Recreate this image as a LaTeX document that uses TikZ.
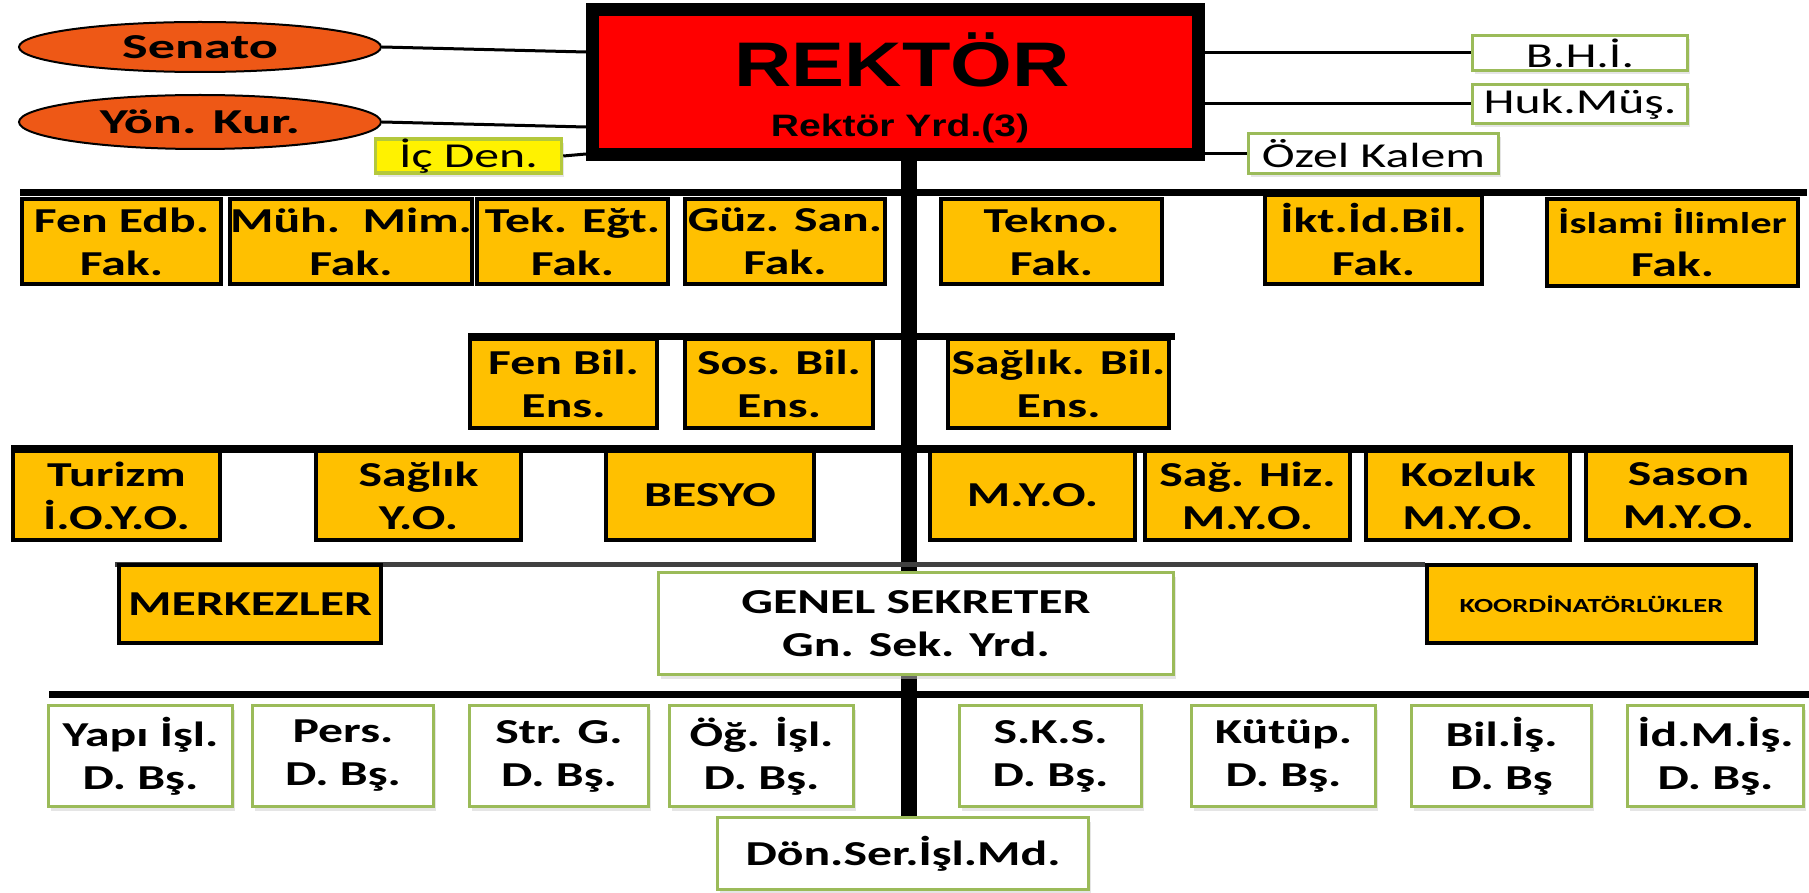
\documentclass[tikz,border=0pt]{standalone}
\usepackage{fontspec}
\newfontfamily\calfont[FakeStretch=1.42]{Carlito}
\newfontfamily\ellfont[FakeStretch=1.55]{Carlito}
\newfontfamily\rkfont[FakeStretch=1.26]{Liberation Sans}
\usetikzlibrary{shapes.geometric,shadows}
\definecolor{ob}{HTML}{FFC000}
\definecolor{gb}{HTML}{9BBB59}
\definecolor{ell}{RGB}{238,88,22}
\definecolor{ybord}{RGB}{180,200,60}
\begin{document}
\begin{tikzpicture}[x=1pt,y=-1pt,
  obox/.style={draw=black,line width=3.5pt,fill=ob,inner sep=0pt,align=center,
    font={\calfont\bfseries\fontsize{35}{43}\selectfont}},
  gbox/.style={draw=gb,line width=3.5pt,fill=white,inner sep=0pt,align=center,
    font={\calfont\bfseries\fontsize{35}{43}\selectfont},
    drop shadow={shadow xshift=2pt,shadow yshift=-4pt,fill=black!20}},
  rbox/.style={gbox,font={\calfont\fontsize{35}{43}\selectfont}},
  ellbox/.style={ellipse,draw=black,line width=2pt,fill=ell,inner sep=0pt,
    font={\ellfont\bfseries\fontsize{35}{43}\selectfont}},
  bus/.style={line width=7pt,black},
  thin/.style={line width=3pt,black},
  mw/.style={minimum width=#1},
  mh/.style={minimum height=#1}]
\useasboundingbox (0,0) rectangle (1809,893);

% top level
\node[ellbox,mw=362pt,mh=50pt] (senato) at (200,47) {Senato};
\node[ellbox,mw=362pt,mh=54pt] (yonkur) at (200,122) {Yön. Kur.};
\node[draw=black,line width=13pt,fill=red,minimum width=606pt,minimum height=145pt] (rektor) at (895.5,82) {};
\node[anchor=base,inner sep=0pt,font={\rkfont\bfseries\fontsize{63}{63}\selectfont}] (rktitle) at (902,87) {REKTÖR};
\node[anchor=base,inner sep=0pt,font={\rkfont\bfseries\fontsize{31}{31}\selectfont}] (rksub) at (900,137) {Rektör Yrd.(3)};

\node[rbox,draw=ybord,fill=yellow,mw=186pt,mh=31pt] (icden) at (468.5,156) {İç Den.};
\node[rbox,mw=215pt,mh=35pt] (bhi) at (1580,53) {B.H.İ.};
\node[rbox,mw=215pt,mh=39pt] (hukmus) at (1580,104) {Huk.Müş.};
\node[rbox,mw=250pt,mh=40pt] (ozel) at (1373.5,153.5) {Özel Kalem};

\coordinate (rs) at (586,52);
\coordinate (ry) at (586,127);
\coordinate (ri) at (586,154);
\draw[thin] (senato.east) -- (rs);
\draw[thin] (yonkur.east) -- (ry);
\draw[thin] (icden.east) -- (ri);
\draw[thin] (rektor.east |- bhi.west) -- (bhi.west);
\draw[thin] (rektor.east |- hukmus.west) -- (hukmus.west);
\draw[thin] (rektor.east |- ozel.west) -- (ozel.west);

% trunk and buses
\node[gbox,mw=371pt,mh=72pt] (donser) at (903,853.5) {Dön.Ser.İşl.Md.};
\coordinate (tt) at (909,161);
\draw[line width=16pt] (tt) -- (tt |- donser.north);

\coordinate (b1l) at (20,192.5);   \coordinate (b1r) at (1807,192.5);
\coordinate (b2l) at (468,336.5);  \coordinate (b2r) at (1175,336.5);
\coordinate (b3l) at (11,449);     \coordinate (b3r) at (1793,449);
\coordinate (b4l) at (115,564.5);  \coordinate (b4r) at (1425,564.5);
\coordinate (b5l) at (49,694.5);   \coordinate (b5r) at (1809,694.5);
\draw[bus] (b1l) -- (b1r);
\draw[bus] (b2l) -- (b2r);
\draw[bus,line width=8pt] (b3l) -- (b3r);
\draw[line width=5pt,black!75] (b4l) -- (b4r);
\draw[bus] (b5l) -- (b5r);

% faculties
\node[obox,mw=199pt,mh=85pt] (fen) at (121.5,241.5) {Fen Edb.\\Fak.};
\node[obox,mw=236pt,mh=85pt] (muh) at (351,241.5) {Müh.\ \ Mim.\\Fak.};
\node[obox,mw=191pt,mh=85pt] (tek) at (572.5,241.5) {Tek. Eğt.\\Fak.};
\node[obox,mw=200pt,mh=85pt] (guz) at (785,241.5) {Güz. San.\\Fak.};
\node[obox,mw=221pt,mh=85pt] (tekno) at (1051.5,241.5) {Tekno.\\Fak.};
\node[obox,mw=217pt,mh=89pt] (ikt) at (1373.5,239.5) {İkt.İd.Bil.\\Fak.};
\node[obox,mw=251pt,mh=87pt] (isl) at (1672.5,242.5) {{\fontsize{30}{43}\selectfont İslami İlimler}\\Fak.};

% institutes
\node[obox,mw=187pt,mh=89pt] (fenbil) at (563.5,383.5) {Fen Bil.\\Ens.};
\node[obox,mw=188pt,mh=89pt] (sosbil) at (779,383.5) {Sos. Bil.\\Ens.};
\node[obox,mw=221pt,mh=89pt] (sagbil) at (1058.5,383.5) {Sağlık. Bil.\\Ens.};

% schools
\node[obox,mw=207pt,mh=89pt] (turizm) at (116.5,495.5) {Turizm\\İ.O.Y.O.};
\node[obox,mw=205pt,mh=89pt] (saglikyo) at (418.5,495.5) {Sağlık\\Y.O.};
\node[obox,mw=208pt,mh=89pt] (besyo) at (710,495.5) {BESYO};
\node[obox,mw=205pt,mh=89pt] (myo) at (1032.5,495.5) {M.Y.O.};
\node[obox,mw=205pt,mh=89pt] (saghiz) at (1247.5,495.5) {Sağ. Hiz.\\M.Y.O.};
\node[obox,mw=204pt,mh=89pt] (kozluk) at (1468,495.5) {Kozluk\\M.Y.O.};
\node[obox,mw=205pt,mh=89pt] (sason) at (1688.5,495.5) {Sason\\M.Y.O.};

% row 4
\node[obox,mw=262pt,mh=78pt] (merk) at (250,604) {MERKEZLER};
\node[gbox,mw=515pt,mh=102pt] (genel) at (916,623.5) {GENEL SEKRETER\\Gn. Sek. Yrd.};
\node[obox,mw=329pt,mh=78pt,font={\calfont\bfseries\fontsize{20}{24}\selectfont}] (koord) at (1591.5,604) {KOORDİNATÖRLÜKLER};

% departments
\node[gbox,mw=184pt,mh=101pt] (yapi) at (140.5,756) {Yapı İşl.\\D. Bş.};
\node[gbox,mw=181pt,mh=101pt] (pers) at (343,756) {Pers.\\D. Bş.};
\node[gbox,mw=179pt,mh=101pt] (str) at (559,756) {Str. G.\\D. Bş.};
\node[gbox,mw=184pt,mh=101pt] (og) at (761.5,756) {Öğ. İşl.\\D. Bş.};
\node[gbox,mw=182pt,mh=101pt] (sks) at (1050.5,756) {S.K.S.\\D. Bş.};
\node[gbox,mw=184pt,mh=101pt] (kutup) at (1283.5,756) {Kütüp.\\D. Bş.};
\node[gbox,mw=180pt,mh=101pt] (bilis) at (1501.5,756) {Bil.İş.\\D. Bş};
\node[gbox,mw=176pt,mh=101pt] (idmis) at (1715.5,756) {İd.M.İş.\\D. Bş.};
\end{tikzpicture}
\end{document}
